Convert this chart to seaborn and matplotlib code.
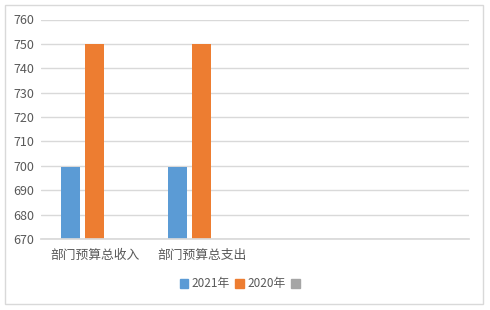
import matplotlib
matplotlib.use("Agg")
import matplotlib.pyplot as plt
import matplotlib.patches as mpatches
import seaborn as sns
import pandas as pd
import numpy as np

categories = ["部门预算总收入", "部门预算总支出", "", " "]
series = ["2021年", "2020年", " "]
values_2021 = [699.7, 699.7, np.nan, np.nan]
values_2020 = [750, 750, np.nan, np.nan]
values_3 = [np.nan, np.nan, np.nan, np.nan]
colors = ["#5B9BD5", "#ED7D31", "#A5A5A5"]

rows = []
for s, vals in zip(series, [values_2021, values_2020, values_3]):
    for c, v in zip(categories, vals):
        rows.append({"cat": c, "series": s, "value": v})
df = pd.DataFrame(rows)

sns.set_theme(style="white")
plt.rcParams["font.family"] = ["Noto Sans CJK SC", "DejaVu Sans"]

fig = plt.figure(figsize=(4.9, 3.1), dpi=100)
ax = fig.add_axes([41/490, 71/310, 428/490, 219.5/310])

sns.barplot(data=df, x="cat", y="value", hue="series", order=categories,
            hue_order=series, palette=colors, width=0.67, gap=0.2,
            saturation=1, legend=False, ax=ax, errorbar=None, linewidth=0)

ax.set_ylim(670, 760)
ax.set_yticks(np.arange(670, 761, 10))
ax.set_xlim(-0.5, 3.5)
ax.grid(axis="y", color="#D9D9D9", linewidth=1)
ax.set_axisbelow(True)
for sp in ["top", "right", "left"]:
    ax.spines[sp].set_visible(False)
ax.spines["bottom"].set_color("#D9D9D9")
ax.set_xlabel("")
ax.set_ylabel("")
ax.tick_params(axis="y", length=0, labelsize=9, labelcolor="#595959", pad=5)
ax.tick_params(axis="x", length=0, labelsize=9.2, labelcolor="#595959", pad=7)

handles = [mpatches.Patch(color=c, label=s) for c, s in zip(colors, series)]
fig.legend(handles=handles, loc="center", bbox_to_anchor=(243/490, 1 - 284/310),
           ncol=3, frameon=False, fontsize=8.5, handlelength=0.7, handleheight=0.7,
           handletextpad=0.35, columnspacing=0.45, labelcolor="#595959")

border = mpatches.Rectangle((4.5/490, 1 - 303.5/310), 478/490, 299/310,
                            transform=fig.transFigure, fill=False,
                            edgecolor="#D9D9D9", linewidth=1)
fig.patches.append(border)

fig.savefig("out.png", dpi=100)
